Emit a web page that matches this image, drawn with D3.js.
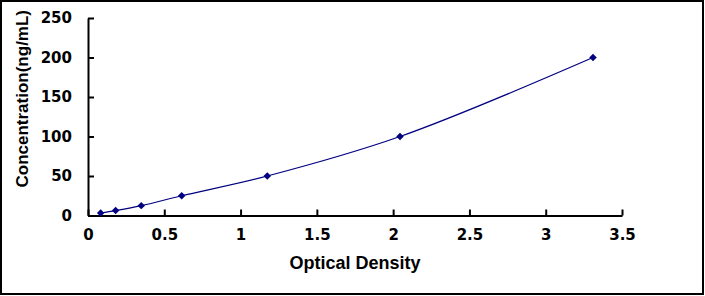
<!DOCTYPE html>
<html lang="en">
<head>
    <meta charset="UTF-8">
    <title>Standard curve</title>
    <style>
        body { margin: 0; background: #fff; }
        .tick text { font-family: "DejaVu Sans", sans-serif; font-weight: bold; font-size: 15px; fill: #000; }
        .axis-title { font-family: "Liberation Sans", Arial, sans-serif; font-weight: bold; fill: #000; }
    </style>
</head>
<body>
    <div id="chart"></div>

    <script src="https://d3js.org/d3.v7.min.js"></script>
    <script>
        // data
        var od = [0.083, 0.181, 0.349, 0.614, 1.175, 2.045, 3.31];
        var conc = [3.125, 6.25, 12.5, 25, 50, 100, 200];
        var xTicks = [0, 0.5, 1, 1.5, 2, 2.5, 3, 3.5];
        var yTicks = [0, 50, 100, 150, 200, 250];

        var W = 705, H = 296;
        var margin = { top: 18, right: 83, bottom: 80.5, left: 88 },
            width = W - margin.left - margin.right,
            height = H - margin.top - margin.bottom;

        var root = d3.select("#chart")
            .append("svg")
            .attr("width", W)
            .attr("height", H);

        // outer frame
        root.append("rect")
            .attr("x", 1).attr("y", 1)
            .attr("width", W - 3).attr("height", H - 3)
            .attr("fill", "none")
            .attr("stroke", "#000")
            .attr("stroke-width", 2);

        var svg = root.append("g")
            .attr("transform", "translate(" + margin.left + "," + margin.top + ")");

        var x = d3.scaleLinear().domain([0, 3.5]).range([0, width]);
        var y = d3.scaleLinear().domain([0, 250]).range([height, 0]);

        var xAxis = svg.append("g")
            .attr("transform", "translate(0," + height + ")")
            .call(d3.axisBottom(x).tickValues(xTicks).tickSizeInner(-6).tickSizeOuter(0)
                .tickPadding(14).tickFormat(d3.format("")));

        var yAxis = svg.append("g")
            .call(d3.axisLeft(y).tickValues(yTicks).tickSizeInner(-6).tickSizeOuter(0)
                .tickPadding(16));

        [xAxis, yAxis].forEach(function (a) {
            a.select(".domain").attr("stroke-width", 2);
            a.selectAll(".tick line").attr("stroke-width", 2);
        });

        var pts = od.map(function (d, i) { return [d, conc[i]]; });

        var line = d3.line()
            .x(function (d) { return x(d[0]); })
            .y(function (d) { return y(d[1]); })
            .curve(d3.curveCatmullRom);

        svg.append("path")
            .datum(pts)
            .attr("d", line)
            .attr("fill", "none")
            .attr("stroke", "#000080")
            .attr("stroke-width", 1.2);

        // square diamonds (rotated squares), like the Excel markers
        svg.selectAll(".pt")
            .data(pts)
            .enter()
            .append("path")
            .attr("class", "pt")
            .attr("d", d3.symbol().type(d3.symbolSquare).size(28))
            .attr("transform", function (d) {
                return "translate(" + x(d[0]) + "," + y(d[1]) + ") rotate(45)";
            })
            .attr("fill", "#000080");

        svg.append("text")
            .attr("class", "axis-title")
            .attr("x", width / 2)
            .attr("y", height + 53)
            .attr("text-anchor", "middle")
            .style("font-size", "18px")
            .text("Optical Density");

        svg.append("text")
            .attr("class", "axis-title")
            .attr("transform", "translate(" + (-60) + "," + (height / 2 - 18) + ") rotate(-90)")
            .attr("text-anchor", "middle")
            .style("font-size", "17px")
            .text("Concentration(ng/mL)");
    </script>
</body>
</html>
